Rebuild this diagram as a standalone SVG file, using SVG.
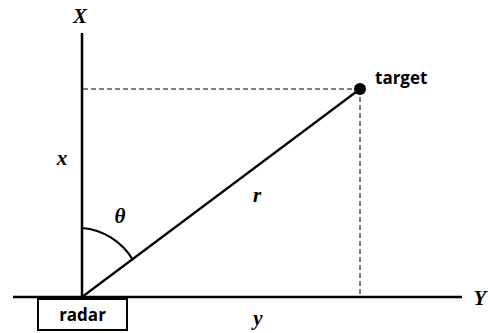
<svg xmlns="http://www.w3.org/2000/svg" width="488" height="333" viewBox="0 0 488 333">
<style>
.ax{stroke:#000;stroke-width:2.5;fill:none}
.ln{stroke:#000;stroke-width:2.2;fill:none}
.dash{stroke:#000;stroke-width:1;stroke-dasharray:5,3;fill:none}
.m{font-family:"Liberation Serif",serif;font-weight:bold;font-style:italic;font-size:21px;fill:#000}
.s{font-family:"Open Sans","Liberation Sans",sans-serif;font-weight:bold;font-size:17px;fill:#000}
</style>
<rect width="488" height="333" fill="#fff"/>
<g id="connectors">
<line class="ax" x1="82" y1="33" x2="82" y2="297"/>
<line class="ax" x1="13" y1="297" x2="462" y2="297"/>
<line class="dash" x1="83" y1="89" x2="360" y2="89"/>
<line class="dash" x1="360" y1="89" x2="360" y2="296"/>
<line class="ln" x1="82" y1="297" x2="360" y2="89"/>
<path class="ln" d="M82,228 A66,69 0 0 1 133,260" stroke-width="2"/>
</g>
<g id="target">
<circle cx="360" cy="89" r="6" fill="#000"/>
<text class="s" x="375" y="84">target</text>
</g>
<g id="radar">
<rect x="38" y="299" width="89" height="31" fill="#fff" stroke="#000" stroke-width="2"/>
<text class="s" x="82.5" y="321" text-anchor="middle">radar</text>
</g>
<g id="labels">
<text class="m" x="80" y="23" text-anchor="middle">X</text>
<text class="m" x="480" y="305" text-anchor="middle">Y</text>
<text class="m" x="62" y="165" text-anchor="middle">x</text>
<text class="m" x="258" y="325" text-anchor="middle">y</text>
<text class="m" x="257" y="202" text-anchor="middle">r</text>
<text class="m" x="120" y="223" text-anchor="middle">θ</text>
</g>
</svg>
